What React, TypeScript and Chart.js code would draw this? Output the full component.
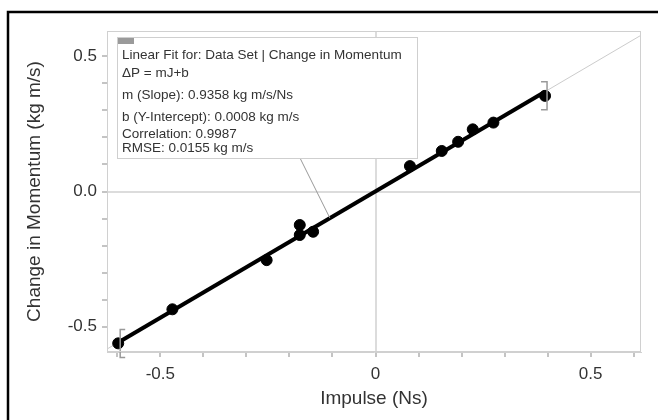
import React, { useEffect, useRef } from 'react';
import { Chart, registerables } from 'chart.js';

Chart.register(...registerables);

// ---- data ----
const IMPULSE = [-0.598, -0.472, -0.253, -0.176, -0.176, -0.145, 0.080, 0.154, 0.192, 0.226, 0.274, 0.394];
const DELTA_P = [-0.562, -0.436, -0.254, -0.124, -0.161, -0.149, 0.094, 0.150, 0.184, 0.230, 0.255, 0.354];

const SLOPE = 0.9358;
const INTERCEPT = 0.0008;

const X_TICKS = [-0.6, -0.5, -0.4, -0.3, -0.2, -0.1, 0, 0.1, 0.2, 0.3, 0.4, 0.5, 0.6];
const X_TICK_LABELS = ['', '-0.5', '', '', '', '', '0', '', '', '', '', '0.5', ''];
const Y_TICKS = [-0.5, -0.4, -0.3, -0.2, -0.1, 0, 0.1, 0.2, 0.3, 0.4, 0.5];
const Y_TICK_LABELS = ['-0.5', '', '', '', '', '0.0', '', '', '', '', '0.5'];

const X_MIN = -0.624;
const X_MAX = 0.617;
const Y_MIN = -0.594;
const Y_MAX = 0.594;

const X_TITLE = 'Impulse (Ns)';
const Y_TITLE = 'Change in Momentum (kg m/s)';

const FIT_TEXT = [
  'Linear Fit for: Data Set | Change in Momentum',
  '\u0394P = mJ+b',
  'm (Slope): 0.9358 kg m/s/Ns',
  'b (Y-Intercept): 0.0008 kg m/s',
  'Correlation: 0.9987',
  'RMSE: 0.0155 kg m/s',
];
const FIT_TEXT_OFFSETS = [18, 36, 58, 80, 97, 111];
const LEADER_X = -0.106;

const FONT = '"Liberation Sans", Arial, Helvetica, sans-serif';

const fitY = (x: number) => SLOPE * x + INTERCEPT;

const overlay = {
  id: 'overlay',
  beforeDraw(chart: any) {
    const { ctx, width, height } = chart;
    ctx.save();
    ctx.fillStyle = '#ffffff';
    ctx.fillRect(0, 0, width, height);
    ctx.restore();
  },
  afterDatasetsDraw(chart: any) {
    const { ctx, chartArea: a, scales } = chart;
    const xs = scales.x;
    const ys = scales.y;
    ctx.save();

    // brackets at the ends of the fitted range
    const dMin = Math.min(...IMPULSE);
    const dMax = Math.max(...IMPULSE);
    ctx.strokeStyle = '#999999';
    ctx.lineWidth = 1.5;
    const bl = xs.getPixelForValue(dMin) + 2;
    const blY = ys.getPixelForValue(fitY(dMin)) + 1;
    ctx.beginPath();
    ctx.moveTo(bl + 5, blY - 14);
    ctx.lineTo(bl, blY - 14);
    ctx.lineTo(bl, blY + 14);
    ctx.lineTo(bl + 5, blY + 14);
    ctx.stroke();
    const br = xs.getPixelForValue(dMax) + 2;
    const brY = ys.getPixelForValue(fitY(dMax)) + 4;
    ctx.beginPath();
    ctx.moveTo(br - 6, brY - 14);
    ctx.lineTo(br, brY - 14);
    ctx.lineTo(br, brY + 14);
    ctx.lineTo(br - 6, brY + 14);
    ctx.stroke();

    // annotation box
    const bx = a.left + 10;
    const by = a.top + 6;
    const bw = 300;
    const bh = 121;

    // leader line
    ctx.strokeStyle = '#9a9a9a';
    ctx.lineWidth = 1;
    ctx.beginPath();
    ctx.moveTo(bx + 183, by + bh);
    ctx.lineTo(xs.getPixelForValue(LEADER_X), ys.getPixelForValue(fitY(LEADER_X)));
    ctx.stroke();

    ctx.fillStyle = '#ffffff';
    ctx.fillRect(bx, by, bw, bh);
    ctx.strokeStyle = '#cfcfcf';
    ctx.lineWidth = 1;
    ctx.strokeRect(bx + 0.5, by + 0.5, bw, bh);
    ctx.fillStyle = '#9a9a9a';
    ctx.fillRect(bx + 1, by + 1, 16, 6);

    ctx.fillStyle = '#333333';
    ctx.font = `13.5px ${FONT}`;
    ctx.textBaseline = 'middle';
    ctx.textAlign = 'left';
    FIT_TEXT.forEach((t, i) => {
      ctx.fillText(t, bx + 5, by + FIT_TEXT_OFFSETS[i]);
    });
    ctx.restore();
  },
  afterDraw(chart: any) {
    const { ctx, chartArea: a, width } = chart;
    ctx.save();
    ctx.strokeStyle = '#d0d0d0';
    ctx.lineWidth = 1;
    ctx.strokeRect(a.left + 0.5, a.top + 0.5, a.right - a.left - 1, a.bottom - a.top - 1);
    // outer frame (left and top visible)
    ctx.strokeStyle = '#000000';
    ctx.lineWidth = 2.5;
    ctx.beginPath();
    ctx.moveTo(8, 420);
    ctx.lineTo(8, 12);
    ctx.lineTo(width, 12);
    ctx.stroke();
    ctx.restore();
  },
};

export default function App() {
  const ref = useRef<HTMLCanvasElement | null>(null);

  useEffect(() => {
    if (!ref.current) return;
    const dMin = Math.min(...IMPULSE);
    const dMax = Math.max(...IMPULSE);
    const points = IMPULSE.map((x, i) => ({ x, y: DELTA_P[i] }));
    const fitThick = [
      { x: dMin, y: fitY(dMin) },
      { x: dMax, y: fitY(dMax) },
    ];
    const fitThin = [
      { x: X_MIN, y: fitY(X_MIN) },
      { x: X_MAX, y: fitY(X_MAX) },
    ];

    const gridColor = (c: any) => (c.tick && Math.abs(c.tick.value) < 1e-9 ? '#dcdcdc' : 'rgba(0,0,0,0)');

    const chart = new Chart(ref.current, {
      type: 'scatter',
      data: {
        datasets: [
          {
            label: 'Data Set',
            data: points,
            backgroundColor: '#000000',
            borderColor: '#000000',
            pointRadius: 5.5,
            pointHoverRadius: 5.5,
            showLine: false,
          },
          {
            label: 'Fit',
            data: fitThick,
            borderColor: '#000000',
            borderWidth: 4,
            pointRadius: 0,
            showLine: true,
          },
          {
            label: 'Fit extension',
            data: fitThin,
            borderColor: '#cccccc',
            borderWidth: 1,
            pointRadius: 0,
            showLine: true,
          },
        ],
      },
      options: {
        animation: false,
        responsive: false,
        maintainAspectRatio: false,
        layout: { padding: { left: 0, top: 31, right: 17, bottom: 0 } },
        plugins: {
          legend: { display: false },
          tooltip: { enabled: false },
        },
        scales: {
          x: {
            type: 'linear',
            position: 'bottom',
            min: X_MIN,
            max: X_MAX,
            afterBuildTicks: (s: any) => {
              s.ticks = X_TICKS.map((v) => ({ value: v }));
            },
            afterFit: (s: any) => {
              s.height = 68;
            },
            ticks: {
              autoSkip: false,
              maxRotation: 0,
              padding: 7,
              color: '#333333',
              font: { family: FONT, size: 17 },
              callback: (_v: any, i: number) => X_TICK_LABELS[i],
            },
            grid: {
              color: gridColor,
              lineWidth: 2,
              tickColor: '#c4c4c4',
              tickLength: 5,
              drawTicks: true,
            },
            border: { display: true, color: '#d0d0d0', width: 1 },
            title: {
              display: true,
              text: X_TITLE,
              color: '#333333',
              font: { family: FONT, size: 19 },
              padding: { top: 0, bottom: 9.6 },
            },
          },
          y: {
            type: 'linear',
            position: 'left',
            min: Y_MIN,
            max: Y_MAX,
            afterBuildTicks: (s: any) => {
              s.ticks = Y_TICKS.map((v) => ({ value: v }));
            },
            afterFit: (s: any) => {
              s.width = 107;
            },
            ticks: {
              autoSkip: false,
              padding: 5,
              color: '#333333',
              font: { family: FONT, size: 17 },
              callback: (_v: any, i: number) => Y_TICK_LABELS[i],
            },
            grid: {
              color: gridColor,
              lineWidth: 2,
              tickColor: '#c4c4c4',
              tickLength: 5,
              drawTicks: true,
            },
            border: { display: true, color: '#d0d0d0', width: 1 },
            title: {
              display: true,
              text: Y_TITLE,
              color: '#333333',
              font: { family: FONT, size: 19 },
              padding: { top: 23.6, bottom: 0 },
            },
          },
        },
      },
      plugins: [overlay],
    });
    return () => chart.destroy();
  }, []);

  return (
    <div style={{ position: 'fixed', left: 0, top: 0, width: 658, height: 420, background: '#fff' }}>
      <canvas ref={ref} width={658} height={420} style={{ display: 'block', width: 658, height: 420 }} />
    </div>
  );
}
